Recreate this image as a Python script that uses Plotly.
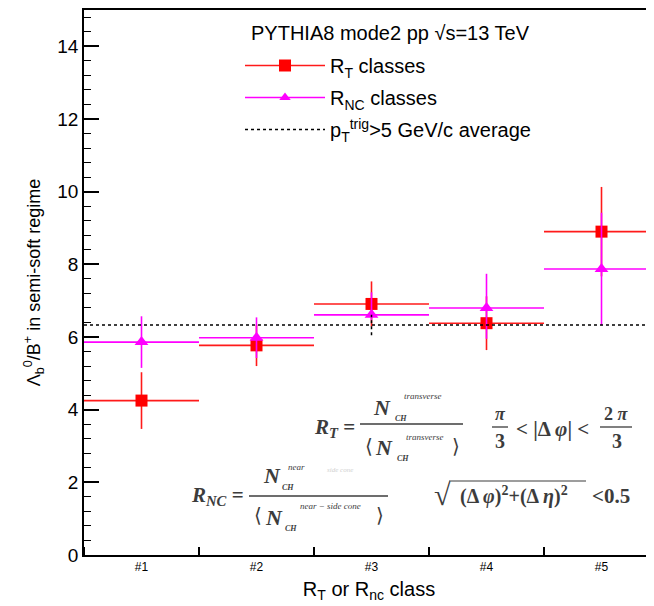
import plotly.graph_objects as go

# ---------------- data ----------------
classes = ["#1", "#2", "#3", "#4", "#5"]
class_pos = [1, 2, 3, 4, 5]
bin_half = [0.5, 0.5, 0.5, 0.5, 0.5]

rt_vals = [4.25, 5.77, 6.91, 6.38, 8.90]
rt_err = [0.78, 0.57, 0.62, 0.74, 1.23]

rnc_vals = [5.86, 5.98, 6.61, 6.80, 7.87]
rnc_err_up = [0.71, 0.56, 0.62, 0.94, 1.55]
rnc_err_dn = [0.71, 0.56, 0.15, 0.85, 1.55]

avg_val = 6.33
avg_err = 0.28
avg_pos = 3

# page has an 8px body margin; size the figure so that it fills the window
OFF = 8
W, H = 654 - OFF, 606 - OFF
L, R, T, B = 84 - OFF, 0, 10 - OFF, 51
PW, PH = W - L - R, H - T - B

RED = "#ff1a1a"
MAG = "#ff00ff"
INK = "#3c3c3c"
SANS = "Liberation Sans, Arial, Helvetica, sans-serif"
SERIF = "Liberation Serif, DejaVu Serif, Times New Roman, serif"


def px(x, y):
    """screen pixel -> paper coords"""
    return ((x - OFF) - L) / PW, (H - B - (y - OFF)) / PH


fig = go.Figure()

fig.add_trace(go.Scatter(
    x=class_pos, y=rt_vals, mode="markers",
    name="R<sub>T</sub> classes",
    marker=dict(symbol="square", size=12, color="#ff0000"),
    error_x=dict(type="data", array=bin_half, color=RED, thickness=1.6, width=0),
    error_y=dict(type="data", array=rt_err, color=RED, thickness=1.6, width=0),
    showlegend=False,
))
fig.add_trace(go.Scatter(
    x=class_pos, y=rnc_vals, mode="markers",
    name="R<sub>NC</sub> classes",
    marker=dict(symbol="triangle-up", size=12, color=MAG),
    error_x=dict(type="data", array=bin_half, color=MAG, thickness=1.6, width=0),
    error_y=dict(type="data", array=rnc_err_up, arrayminus=rnc_err_dn,
                 color=MAG, thickness=1.6, width=0),
    showlegend=False,
))

# average line across all classes
x_lo = class_pos[0] - bin_half[0]
x_hi = class_pos[-1] + bin_half[-1]
fig.add_trace(go.Scatter(
    x=[x_lo, x_hi], y=[avg_val, avg_val], mode="lines",
    line=dict(color="black", width=1.5, dash="dot"),
    showlegend=False, hoverinfo="skip",
))
fig.add_trace(go.Scatter(
    x=[avg_pos, avg_pos], y=[avg_val - avg_err, avg_val + avg_err], mode="lines",
    line=dict(color="black", width=1.5, dash="dot"),
    showlegend=False, hoverinfo="skip",
))

# legend entries (line + marker style)
fig.add_trace(go.Scatter(
    x=[None], y=[None], mode="lines+markers", name="R<sub>T</sub> classes",
    line=dict(color=RED, width=1.6), legendgroup="a",
    marker=dict(symbol="square", size=12, color="#ff0000"),
))
fig.add_trace(go.Scatter(
    x=[None], y=[None], mode="lines+markers", name="R<sub>NC</sub> classes",
    line=dict(color=MAG, width=1.6), legendgroup="b",
    marker=dict(symbol="triangle-up", size=10, color=MAG),
))
fig.add_trace(go.Scatter(
    x=[None], y=[None], mode="lines", name="p<sub>T</sub><sup>trig</sup>>5 GeV/c average",
    line=dict(color="black", width=1.5, dash="dot"), legendgroup="c",
))

annotations = []
shapes = []


def txt(x, y, s, size, family=SERIF, color=INK, xanchor="center"):
    xp, yp = px(x, y)
    annotations.append(dict(
        x=xp, y=yp, xref="paper", yref="paper", text=s, showarrow=False,
        xanchor=xanchor, yanchor="middle",
        font=dict(size=size, family=family, color=color),
    ))


def hline(x0, x1, y, color=INK, width=1.3):
    a0, b0 = px(x0, y)
    a1, _ = px(x1, y)
    shapes.append(dict(type="line", xref="paper", yref="paper",
                       x0=a0, x1=a1, y0=b0, y1=b0,
                       line=dict(color=color, width=width)))


# header of legend
txt(390, 33, "PYTHIA8 mode2 pp √s=13 TeV", 20, family=SANS, color="black")

# ---- formula 1: R_T ----
txt(357, 428, "<b><i>R<sub>T</sub></i></b> <b>=</b>", 21, xanchor="right")
hline(360, 463, 424)
txt(382, 407, "<b><i>N</i></b>", 22)
txt(423, 396, "<i>transverse</i>", 9)
txt(401, 418, "<b><i>CH</i></b>", 8)
txt(369, 446, "⟨", 20)
txt(384, 447, "<b><i>N</i></b>", 22)
txt(425, 437, "<i>transverse</i>", 9)
txt(403, 458, "<b><i>CH</i></b>", 8)
txt(456, 446, "⟩", 20)

txt(500, 414, "<b><i>π</i></b>", 18)
hline(492, 508, 427)
txt(500, 441, "<b>3</b>", 20)
txt(552, 429, "<b>&lt; |Δ <i>φ</i>| &lt;</b>", 21)
txt(616, 414, "<b>2 <i>π</i></b>", 18)
hline(600, 632, 427)
txt(617, 441, "<b>3</b>", 20)

# ---- formula 2: R_NC ----
txt(246, 496, "<b><i>R<sub>NC</sub></i></b> <b>=</b>", 21, xanchor="right")
hline(249, 388, 496)
txt(272, 476, "<b><i>N</i></b>", 22)
txt(296, 467, "<i>near</i>", 9)
txt(340, 470, "<i>side cone</i>", 7, color="#d0d0d0")
txt(288, 488, "<b><i>CH</i></b>", 8)
txt(258, 515, "⟨", 20)
txt(274, 517, "<b><i>N</i></b>", 22)
txt(330, 506, "<i>near − side cone</i>", 9)
txt(291, 528, "<b><i>CH</i></b>", 8)
txt(380, 515, "⟩", 20)

txt(442, 494, "√", 30)
hline(449, 586, 481, width=1.2)
txt(514, 496, "<b>(Δ <i>φ</i>)<sup>2</sup>+(Δ <i>η</i>)<sup>2</sup></b>", 20)
txt(611, 496, "<b>&lt;0.5</b>", 21)

fig.update_layout(
    width=W, height=H,
    margin=dict(l=L, r=R, t=T, b=B),
    paper_bgcolor="white", plot_bgcolor="white",
    font=dict(family=SANS, color="black"),
    showlegend=True,
    legend=dict(
        x=px(240, 0)[0], y=px(0, 46)[1], xanchor="left", yanchor="top",
        bgcolor="rgba(0,0,0,0)", font=dict(size=20, family=SANS, color="black"),
        tracegroupgap=3, itemwidth=80,
    ),
    annotations=annotations,
    shapes=shapes,
    xaxis=dict(
        range=[0.5, 0.5 + PW / 115.0], automargin=False,
        tickmode="array", tickvals=class_pos, ticktext=classes,
        ticks="", showgrid=False, zeroline=False,
        showline=True, linecolor="black", linewidth=1.5, mirror=True,
        tickfont=dict(size=12, family=SANS, color="black"),
        minor=dict(tickmode="linear", tick0=0.5, dtick=1, ticks="inside",
                   ticklen=8, tickwidth=1.5, tickcolor="black", showgrid=False),
        title=dict(text="R<sub>T</sub> or R<sub>nc</sub> class",
                   font=dict(size=20, family=SANS, color="black"), standoff=9),
    ),
    yaxis=dict(
        range=[0, 15], dtick=2, tick0=0, automargin=False,
        ticks="inside", ticklen=15, tickwidth=1.5, tickcolor="black",
        showgrid=False, zeroline=False,
        showline=True, linecolor="black", linewidth=1.5, mirror=False,
        tickfont=dict(size=19, family=SANS, color="black"),
        minor=dict(dtick=0.4, tick0=0, ticks="inside", ticklen=7,
                   tickwidth=1.2, tickcolor="black", showgrid=False),
        title=dict(text="Λ<sub>b</sub><sup>0</sup>/B<sup>+</sup> in semi-soft regime",
                   font=dict(size=18, family=SANS, color="black"), standoff=12),
    ),
)

fig.write_html("out.html")
